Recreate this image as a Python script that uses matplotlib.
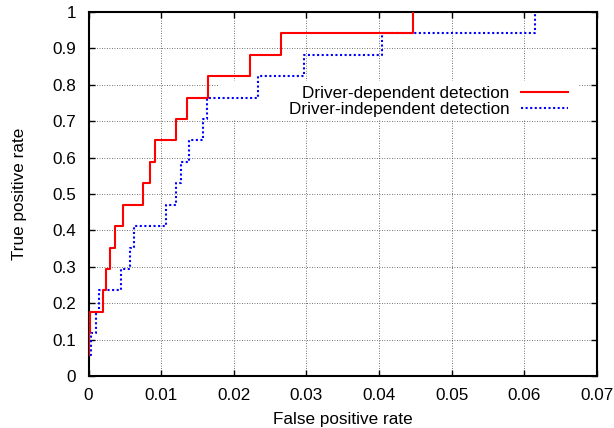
import numpy as np
import matplotlib
matplotlib.use("Agg")
import matplotlib.pyplot as plt
from matplotlib.patches import Rectangle
from matplotlib.ticker import MultipleLocator, FormatStrFormatter

plt.rcParams["font.family"] = ["Liberation Sans", "DejaVu Sans"]

# -----------------------------
# ROC steps (17 positives)
# -----------------------------
dep_fpr = [0.0, 0.0, 0.0002, 0.0020, 0.0024, 0.0030, 0.0037, 0.0048, 0.0075,
           0.0085, 0.0092, 0.0120, 0.0135, 0.0165, 0.0222, 0.0265, 0.0447]
dep_tpr = [0.059, 0.118, 0.176, 0.235, 0.294, 0.353, 0.412, 0.471, 0.529,
           0.588, 0.647, 0.706, 0.765, 0.824, 0.882, 0.941, 1.0]

ind_fpr = [0.0002, 0.0004, 0.0010, 0.0015, 0.0045, 0.0057, 0.0063, 0.0106, 0.0121,
           0.0128, 0.0138, 0.0158, 0.0163, 0.0233, 0.0297, 0.0404, 0.0615]
ind_tpr = [0.059, 0.118, 0.176, 0.235, 0.294, 0.353, 0.412, 0.471, 0.529,
           0.588, 0.647, 0.706, 0.765, 0.824, 0.882, 0.941, 1.0]

x_ticks = [0, 0.01, 0.02, 0.03, 0.04, 0.05, 0.06, 0.07]
y_ticks = [0, 0.1, 0.2, 0.3, 0.4, 0.5, 0.6, 0.7, 0.8, 0.9, 1.0]

fs = 12.3

fig = plt.figure(figsize=(6.14, 4.28), dpi=100)
ax = fig.add_axes([88.5 / 614, 52 / 428, 508.5 / 614, 364 / 428])

ax.step(dep_fpr, dep_tpr, where="post", color="#ff0000", lw=1.5,
        label="Driver-dependent detection", zorder=3)
ax.step(ind_fpr, ind_tpr, where="post", color="#0000ff", lw=1.5,
        linestyle=(0, (1, 1.2)), label="Driver-independent detection", zorder=2)

ax.set_xlim(0, 0.07)
ax.set_ylim(0, 1)
ax.set_xticks(x_ticks)
ax.set_yticks(y_ticks)
ax.xaxis.set_major_formatter(FormatStrFormatter("%g"))
ax.yaxis.set_major_formatter(FormatStrFormatter("%g"))

ax.set_axisbelow(True)
ax.grid(True, color="#444444", lw=0.6, linestyle=(0, (1, 2)))

ax.tick_params(direction="in", length=4.5, width=1, top=True, right=True,
               labelsize=fs, pad=9)
for s in ax.spines.values():
    s.set_linewidth(1.5)

# opaque key background hides the grid behind it
ax.add_patch(Rectangle((0.2547, 0.703), 0.708, 0.107, transform=ax.transAxes,
                       facecolor="white", edgecolor="none", zorder=1))

ax.legend(loc="upper right", bbox_to_anchor=(0.9436, 0.797), frameon=False,
          markerfirst=False, fontsize=fs, handlelength=2.79, handletextpad=0.64,
          labelspacing=0.07, borderpad=0, borderaxespad=0)

ax.set_xlabel("False positive rate", fontsize=fs, labelpad=6)
ax.set_ylabel("True positive rate", fontsize=fs, labelpad=18)

plt.savefig("out.png", dpi=100)
plt.close()
